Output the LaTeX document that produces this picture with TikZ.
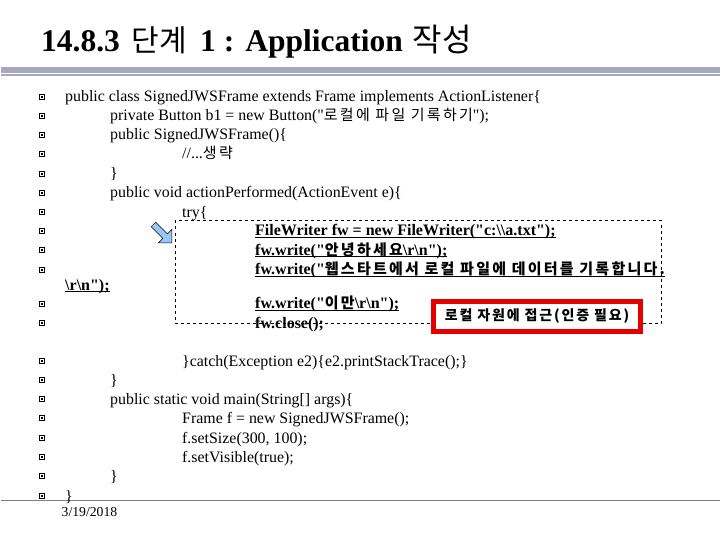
\documentclass[tikz,border=0pt]{standalone}
\usepackage{fontspec}
\setmainfont{Liberation Serif}[Ligatures=TeXOff]
\newfontfamily\hangul[LetterSpace=15]{Noto Sans CJK KR}
\newfontfamily\notehangul[LetterSpace=13]{Noto Sans CJK KR}
\newfontfamily\titlehangul{Noto Sans CJK KR}
\usetikzlibrary{shapes.arrows}
\definecolor{rulegray}{RGB}{168,168,190}
\definecolor{callblue}{RGB}{150,200,245}
\newcommand{\hg}[1]{{\hangul\fontsize{15}{16}\selectfont #1}}
\newcommand{\ul}[1]{\underline{\smash{#1}}}
\begin{document}
\begin{tikzpicture}[x=1pt,y=-1pt]
	\tikzstyle{codeline}=[anchor=base west, inner sep=0, font=\fontsize{15.9}{18}\selectfont, text=black]
	\tikzstyle{codebold}=[codeline, font=\fontsize{16}{18}\selectfont\bfseries]
	\tikzstyle{bullet}=[draw=black, line width=0.8, minimum size=5, inner sep=0, fill=white]
	\tikzstyle{bulletdot}=[fill=black, minimum size=1.7, inner sep=0]
	\useasboundingbox (0,0) rectangle (720,540);
	\fill [white] (0,0) rectangle (720,540);

	\node [anchor=base west, inner sep=0, font=\fontsize{31.5}{36}\selectfont\bfseries] (title) at (41,52) {14.8.3\hspace{12pt}{\titlehangul\mdseries\fontsize{30}{36}\selectfont 단계}\hspace{13pt}1 :\hspace{11pt}Application\hspace{10pt}{\titlehangul\mdseries\fontsize{32}{36}\selectfont 작성}};

	\fill [rulegray] (1,67) rectangle (720,73);
	\fill [rulegray] (1,74) rectangle (720,76);
	\draw [gray, line width=0.7] (1,500.5) -- (720,500.5);

	% bullets
	\foreach \ypos [count=\i] in {97,116,135,154,174,193,212,231,250,270,304,323,361,380,399,418,438,457,476,496} {
		\node [bullet] (box\i) at (42,\ypos) {};
		\node [bulletdot] (dot\i) at (42,\ypos) {};
	}

	% plain code
	\node [codeline] (l1) at (65,102) {public class SignedJWSFrame extends Frame implements ActionListener\{};
	\node [codeline] (l2) at (110,121) {private Button b1 = new Button("\hg{로컬에 파일 기록하기}");};
	\node [codeline] (l3) at (110,140) {public SignedJWSFrame()\{};
	\node [codeline] (l4) at (182,159) {//...\hg{생략}};
	\node [codeline] (l5) at (110,179) {\}};
	\node [codeline] (l6) at (110,198) {public void actionPerformed(ActionEvent e)\{};
	\node [codeline] (l7) at (182,217.5) {try\{};

	% dashed frame round the bold lines
	\draw [dashed, line width=0.5] (175,220.5) rectangle (661,323);

	\node [codebold] (l8) at (255,236) {\ul{FileWriter fw = new FileWriter("c:\textbackslash\textbackslash a.txt");}};
	\node [codebold] (l9) at (255,255) {\ul{fw.write("\hg{안녕하세요}\textbackslash r\textbackslash n");}};
	\node [codebold] (l10) at (255,274.5) {\ul{fw.write("\hg{웹스타트에서 로컬 파일에 데이터를 기록합니다.}}};
	\node [codebold] (l11) at (65,290) {\ul{\textbackslash r\textbackslash n");}};
	\node [codebold] (l12) at (255,308.5) {\ul{fw.write("\hg{이만}\textbackslash r\textbackslash n");}};
	\node [codebold] (l13) at (255,328) {fw.close();};

	% rest of the listing
	\node [codeline] (l14) at (182,366.5) {\}catch(Exception e2)\{e2.printStackTrace();\}};
	\node [codeline] (l15) at (110,385.5) {\}};
	\node [codeline] (l16) at (110,404.5) {public static void main(String[] args)\{};
	\node [codeline] (l17) at (182,423.5) {Frame f = new SignedJWSFrame();};
	\node [codeline] (l18) at (182,443.5) {f.setSize(300, 100);};
	\node [codeline] (l19) at (182,462.5) {f.setVisible(true);};
	\node [codeline] (l20) at (110,481.5) {\}};
	\node [codeline] (l21) at (65,501) {\}};
	\node [anchor=base west, inner sep=0, font=\fontsize{13.7}{16}\selectfont] (date) at (61.5,516) {3/19/2018};

	% callout and arrow
	\node [draw=red!90!black, line width=5, fill=white, minimum width=207, minimum height=30, inner sep=0, font=\fontsize{14}{16}\selectfont\notehangul\bfseries] (note) at (537,316.5) {로컬 자원에 접근(인증 필요)};
	\node [single arrow, draw=black, line width=0.5, fill=callblue, minimum height=26, minimum width=19, single arrow head extend=3.5, inner sep=1.5, rotate=-45] (pointer) at (161.5,232.5) {};
\end{tikzpicture}
\end{document}
